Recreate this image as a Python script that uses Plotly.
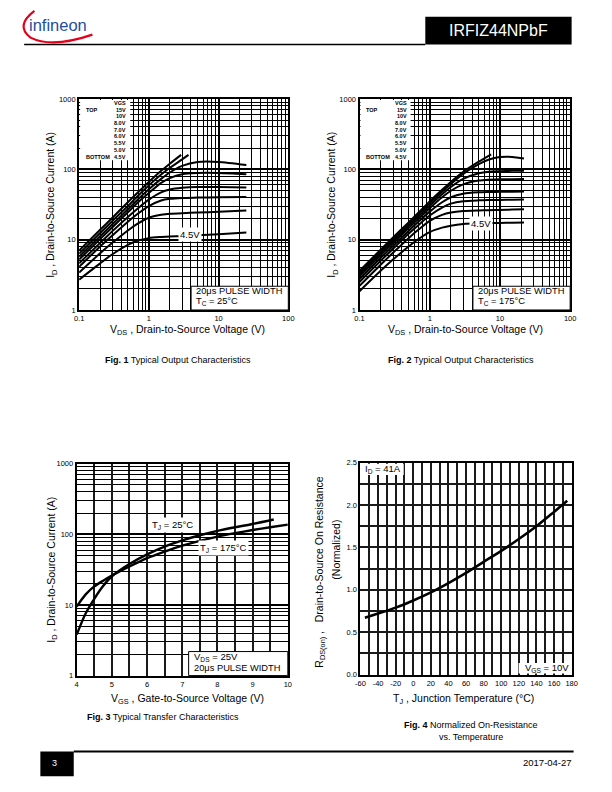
import plotly.graph_objects as go

W, H = 612, 792
FONT = "Liberation Sans, Arial, sans-serif"

# ---------------- data ----------------
vgs_legend = ["15V", "10V", "8.0V", "7.0V", "6.0V", "5.5V", "5.0V", "4.5V"]

# Fig. 1  Tc = 25 °C
f1_vds_15 = [0.1, 0.2, 0.3, 0.5, 0.7, 1, 1.5, 2, 2.9]
f1_id_15 = [7.0, 13.8, 20.5, 34, 47, 66, 95, 120, 160]
f1_vds_10 = [0.1, 0.2, 0.3, 0.5, 0.7, 1, 1.5, 2, 3, 3.7]
f1_id_10 = [6.3, 12.4, 18.4, 30, 42, 59, 84, 105, 138, 160]
f1_vds = [0.1, 0.2, 0.3, 0.5, 0.7, 1, 1.5, 2, 3, 5, 10, 25]
f1_id_8v0 = [5.7, 11.2, 16.5, 27, 37.5, 52, 73, 90, 112, 127, 127, 115]
f1_id_7v0 = [5.2, 10.2, 15, 24.5, 34, 46, 64, 75, 85, 88.5, 88.5, 85]
f1_id_6v0 = [4.6, 9.0, 13.2, 21, 28, 37, 47, 51.5, 54.5, 56, 56, 55]
f1_id_5v5 = [4.1, 8.0, 11.5, 18, 23.5, 30, 36, 38, 39.2, 39.6, 40, 40.5]
f1_id_5v0 = [3.4, 6.4, 9.0, 13.5, 17, 20.5, 22.5, 23.3, 23.8, 24.2, 24.8, 26]
f1_id_4v5 = [2.7, 4.6, 6.2, 8.4, 9.7, 10.5, 10.9, 11.1, 11.2, 11.5, 11.9, 12.6]

# Fig. 2  Tc = 175 °C
f2_vds_15 = [0.1, 0.2, 0.3, 0.5, 0.7, 1, 1.5, 2, 3, 5, 7.5]
f2_id_15 = [3.6, 7.2, 10.7, 17.6, 24.5, 35, 51, 66, 92, 128, 163]
f2_vds = [0.1, 0.2, 0.3, 0.5, 0.7, 1, 1.5, 2, 3, 5, 7, 10, 15, 22]
f2_id_10 = [3.4, 6.8, 10.1, 16.6, 23, 33, 48, 62, 86, 118, 138, 149, 150, 142]
f2_id_8v0 = [3.2, 6.4, 9.5, 15.6, 21.5, 30.5, 44, 56, 73, 88, 92.5, 94, 95, 95]
f2_id_7v0 = [3.0, 6.0, 8.9, 14.6, 20, 28, 40, 49.5, 61, 69, 71, 72, 72.3, 72.6]
f2_id_6v0 = [2.75, 5.5, 8.1, 13.3, 18.2, 25, 34, 40, 45, 47, 47.5, 47.8, 48, 48.3]
f2_id_5v5 = [2.5, 5.0, 7.4, 12.1, 16.3, 22, 28.5, 32.5, 35.2, 36.2, 36.5, 36.7, 37, 37.2]
f2_id_5v0 = [2.2, 4.4, 6.5, 10.5, 14, 18.5, 22.5, 24.3, 25.5, 26, 26.2, 26.4, 26.7, 27]
f2_id_4v5 = [1.85, 3.6, 5.2, 8.0, 10.3, 12.8, 14.8, 15.8, 16.7, 17.1, 17.2, 17.3, 17.4, 17.5]

# Fig. 3  transfer characteristics
f3_vgs_25 = [4.0, 4.25, 4.5, 4.75, 5.0, 5.5, 6.0, 6.5, 7.0, 7.5, 8.0, 8.5, 9.0, 9.6]
f3_id_25 = [3.8, 7.5, 12.2, 18.5, 25.5, 38, 52, 67, 82, 97, 112, 126, 140, 162]
f3_vgs_175 = [4.0, 4.25, 4.5, 4.75, 5.0, 5.5, 6.0, 6.5, 7.0, 7.5, 8.0, 8.5, 9.0, 9.5, 10.0]
f3_id_175 = [9.5, 14, 18.3, 22, 26, 35, 46, 57, 69, 81, 93, 104, 115, 126, 137]

# Fig. 4  normalized on-resistance
f4_tj = [-55, -40, -20, 0, 20, 40, 60, 80, 100, 120, 140, 160, 175]
f4_rds = [0.67, 0.72, 0.79, 0.875, 0.97, 1.08, 1.20, 1.33, 1.46, 1.60, 1.75, 1.92, 2.05]

# tick labels
log_major = [0.1, 1, 10, 100]
log_major_text = ["0.1", "1", "10", "100"]
id_major = [1, 10, 100, 1000]
id_major_text = ["1", "10", "100", "1000"]
vgs_ticks = [4, 5, 6, 7, 8, 9, 10]
tj_ticks = [-60, -40, -20, 0, 20, 40, 60, 80, 100, 120, 140, 160, 180]
tj_ticks_text = ["-60", "-40", "-20", "0", "20", "40", "60", "80", "100", "120", "140", "160", "180"]
r_ticks = [0.0, 0.5, 1.0, 1.5, 2.0, 2.5]
r_ticks_text = ["0.0", "0.5", "1.0", "1.5", "2.0", "2.5"]


# ---------------- helpers ----------------
def px(x):
    return x / W


def py(y):
    return 1 - y / H


def minors(decades):
    out = []
    for d in decades:
        out += [k * d for k in range(2, 10)]
    return out


fig = go.Figure()


def curve(x, y, ax, width=2.0):
    fig.add_trace(go.Scatter(
        x=x, y=y, mode="lines",
        line=dict(color="black", width=width, shape="spline", smoothing=0.7),
        xaxis=ax[0], yaxis=ax[1], showlegend=False, hoverinfo="skip"))


a1 = ("x", "y")
curve(f1_vds_15, f1_id_15, a1)
curve(f1_vds_10, f1_id_10, a1)
for ys in [f1_id_8v0, f1_id_7v0, f1_id_6v0, f1_id_5v5, f1_id_5v0, f1_id_4v5]:
    curve(f1_vds, ys, a1)
a2 = ("x2", "y2")
curve(f2_vds_15, f2_id_15, a2)
for ys in [f2_id_10, f2_id_8v0, f2_id_7v0, f2_id_6v0, f2_id_5v5, f2_id_5v0, f2_id_4v5]:
    curve(f2_vds, ys, a2)
a3 = ("x3", "y3")
curve(f3_vgs_25, f3_id_25, a3, 2.4)
curve(f3_vgs_175, f3_id_175, a3, 2.4)
a4 = ("x4", "y4")
curve(f4_tj, f4_rds, a4, 2.6)

tickfont = dict(family=FONT, size=7.5, color="black")
frame = dict(showline=True, linecolor="black", linewidth=2, mirror=True,
             ticks="", zeroline=False, tickfont=tickfont, fixedrange=True)


def log_axis(dom, anchor, rng, tv, tt, minor_vals):
    return dict(type="log", domain=dom, anchor=anchor, range=rng,
                tickmode="array", tickvals=tv, ticktext=tt,
                showgrid=True, gridcolor="black", gridwidth=2,
                minor=dict(tickmode="array", tickvals=minor_vals, showgrid=True,
                           gridcolor="black", gridwidth=1, ticks=""),
                **frame)


layout = dict(width=W, height=H, margin=dict(l=0, r=0, t=0, b=0),
              paper_bgcolor="white", plot_bgcolor="rgba(0,0,0,0)",
              font=dict(family=FONT, color="black"), showlegend=False)

# geometry (page pixels)
f1 = dict(x0=75.5, x1=288.5, y0=96, y1=309.5)
f2 = dict(x0=361, x1=575.5, y0=96, y1=309.5)
f3 = dict(x0=73, x1=288, y0=465, y1=679.3)
f4 = dict(x0=362, x1=577, y0=464, y1=678.3)


def dx(f):
    return [px(f["x0"]), px(f["x1"])]


def dy(f):
    return [py(f["y1"]), py(f["y0"])]


layout["xaxis"] = log_axis(dx(f1), "y", [-1, 2], log_major, log_major_text, minors([0.1, 1, 10]))
layout["yaxis"] = log_axis(dy(f1), "x", [0, 3], id_major, id_major_text, minors([1, 10, 100]))
layout["xaxis2"] = log_axis(dx(f2), "y2", [-1, 2], log_major, log_major_text, minors([0.1, 1, 10]))
layout["yaxis2"] = log_axis(dy(f2), "x2", [0, 3], id_major, id_major_text, minors([1, 10, 100]))
layout["xaxis3"] = dict(domain=dx(f3), anchor="y3", range=[4, 10], tickmode="array",
                        tickvals=vgs_ticks, showgrid=True, gridcolor="#1a1a1a", gridwidth=1.6,
                        minor=dict(tickmode="array", tickvals=[4.5, 5.5, 6.5, 7.5, 8.5, 9.5],
                                   showgrid=True, gridcolor="#1a1a1a", gridwidth=1.6, ticks=""),
                        **frame)
layout["yaxis3"] = log_axis(dy(f3), "x3", [0, 3], id_major, id_major_text, minors([1, 10, 100]))
layout["xaxis4"] = dict(domain=dx(f4), anchor="y4", range=[-60, 180], tickmode="array",
                        tickvals=tj_ticks, ticktext=tj_ticks_text, showgrid=True,
                        gridcolor="#1a1a1a", gridwidth=1.6,
                        minor=dict(tickmode="array", tickvals=list(range(-50, 180, 20)),
                                   showgrid=True, gridcolor="#1a1a1a", gridwidth=1.6, ticks=""),
                        **frame)
layout["yaxis4"] = dict(domain=dy(f4), anchor="x4", range=[0, 2.5], tickmode="array",
                        tickvals=r_ticks, ticktext=r_ticks_text, showgrid=True,
                        gridcolor="#1a1a1a", gridwidth=1.6,
                        minor=dict(tickmode="array", tickvals=[0.25, 0.75, 1.25, 1.75, 2.25],
                                   showgrid=True, gridcolor="#1a1a1a", gridwidth=1.6, ticks=""),
                        **frame)

shapes = []
annotations = []


def rect(x0, y0, x1, y1, fill="white", lw=0, lc="black"):
    shapes.append(dict(type="rect", xref="paper", yref="paper",
                       x0=px(x0), x1=px(x1), y0=py(y1), y1=py(y0),
                       fillcolor=fill, line=dict(width=lw, color=lc), layer="above"))


def line(x0, y0, x1, y1, lw=1.5):
    shapes.append(dict(type="line", xref="paper", yref="paper",
                       x0=px(x0), x1=px(x1), y0=py(y0), y1=py(y1),
                       line=dict(width=lw, color="black"), layer="above"))


def text(x, y, t, size=9.5, xa="center", ya="middle", color="black", angle=0, bg=None):
    d = dict(xref="paper", yref="paper", x=px(x), y=py(y), text=t, showarrow=False,
             xanchor=xa, yanchor=ya, textangle=angle,
             font=dict(family=FONT, size=size, color=color))
    if bg:
        d.update(bgcolor=bg, borderpad=1)
    annotations.append(d)


# ---------- header ----------
text(22, 21, "infineon", size=16.5, xa="left", color="#1f4e9e")
shapes.append(dict(type="path", xref="paper", yref="paper",
                   path="M {} {} Q {} {} {} {} Q {} {} {} {}".format(
                       px(30), py(7), px(10), py(22), px(26), py(34),
                       px(48), py(45), px(89), py(31)),
                   line=dict(color="#e2001a", width=2.2), layer="above"))
rect(428, 13, 577, 41, fill="black")
text(502.5, 27, "IRFIZ44NPbF", size=16, color="white")
line(19.5, 41, 428, 41, 1.5)

# ---------- footer ----------
rect(36, 756, 70, 781, fill="black")
text(50, 768, "3", size=9, color="white")
line(70, 756, 579, 756, 2)
text(579, 767, "2017-04-27", size=9.5, xa="right")


# ---------- Fig 1 / Fig 2 legends and labels ----------
def vgs_legend_box(f, temp):
    x0 = f["x0"]
    rect(x0 + 1, f["y0"] + 1, x0 + 52, 158)
    ys = [100, 106.8, 113.6, 120.4, 127.2, 134, 140.8, 147.6, 154.4]
    text(x0 + 50, ys[0], "<b>VGS</b>", size=5.5, xa="right")
    for yy, lab in zip(ys[1:], vgs_legend):
        text(x0 + 50, yy, "<b>" + lab + "</b>", size=5.5, xa="right")
    text(x0 + 4.5, ys[1], "<b>TOP</b>", size=5.5, xa="left")
    text(x0 + 4.5, ys[-1], "<b>BOTTOM</b>", size=5.5, xa="left")
    rect(f["x1"] - 99, 285.5, f["x1"], f["y1"], lw=1)
    text(f["x1"] - 96, 290, "20μs PULSE WIDTH", size=9.3, xa="left")
    text(f["x1"] - 96, 300.5, "T<sub>C</sub> = " + temp, size=9.3, xa="left")


vgs_legend_box(f1, "25°C")
vgs_legend_box(f2, "175°C")
text(188, 233, "4.5V", size=9.5, bg="white")
text(485, 222, "4.5V", size=9.5, bg="white")

text(47, 203, "I<sub>D</sub> , Drain-to-Source Current (A)", size=10.5, angle=-90)
text(333, 203, "I<sub>D</sub> , Drain-to-Source Current (A)", size=10.5, angle=-90)
text(186, 330, "V<sub>DS</sub> , Drain-to-Source Voltage (V)", size=10.5)
text(469, 330, "V<sub>DS</sub> , Drain-to-Source Voltage (V)", size=10.5)
text(176, 360, "<b>Fig. 1</b> Typical Output Characteristics", size=9)
text(464, 360, "<b>Fig. 2</b> Typical Output Characteristics", size=9)

# ---------- Fig 3 labels ----------
text(148, 527, "T<sub>J</sub> = 25°C", size=9.5, xa="left", bg="white")
text(197, 550, "T<sub>J</sub> = 175°C", size=9.5, xa="left", bg="white")
rect(187, 655, f3["x1"], f3["y1"], lw=1)
text(190, 661, "V<sub>DS</sub> = 25V", size=9.5, xa="left")
text(190, 671.5, "20μs PULSE WIDTH", size=9.3, xa="left")
text(47, 572, "I<sub>D</sub> , Drain-to-Source Current (A)", size=10.5, angle=-90)
text(186, 703, "V<sub>GS</sub> , Gate-to-Source Voltage (V)", size=10.5)
text(161, 721, "<b>Fig. 3</b> Typical Transfer Characteristics", size=9)

# ---------- Fig 4 labels ----------
rect(f4["x0"] + 1, f4["y0"] + 1, 406, 476.5)
text(365, 470.5, "I<sub>D</sub> = 41A", size=9.5, xa="left")
rect(523, 666.5, f4["x1"] - 1, f4["y1"] - 1)
text(527, 672, "V<sub>GS</sub> = 10V", size=9.5, xa="left")
text(321, 575, "R<sub>DS(on)</sub> ,   Drain-to-Source On Resistance", size=10.5, angle=-90)
text(337, 552, "(Normalized)", size=10.5, angle=-90)
text(467, 703, "T<sub>J</sub> , Junction Temperature (°C)", size=10.5)
text(475, 729, "<b>Fig. 4</b> Normalized On-Resistance", size=9)
text(475, 741, "vs. Temperature", size=9)

layout["shapes"] = shapes
layout["annotations"] = annotations
fig.update_layout(**layout)
fig.write_html("out.html", config={"displayModeBar": False},
               post_script="document.body.style.margin='0';document.body.style.padding='0';")
